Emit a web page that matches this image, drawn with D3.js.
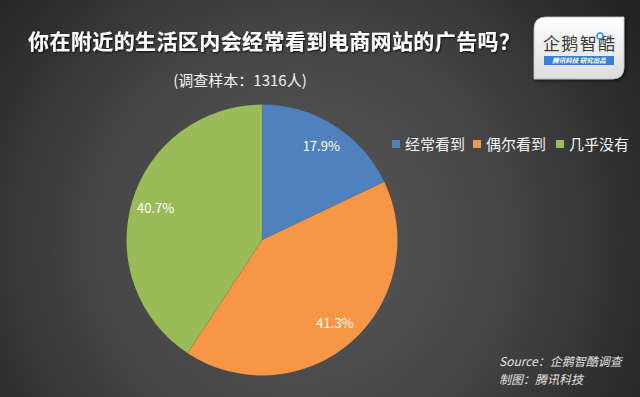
<!DOCTYPE html>
<html><head><meta charset="utf-8">
<script src="https://cdn.jsdelivr.net/npm/d3@7"></script>
<style>html,body{margin:0;padding:0;background:#2b2b2b;overflow:hidden}</style>
</head><body>
<script>
const categories = ["经常看到", "偶尔看到", "几乎没有"];
const values = [17.9, 41.3, 40.7];
const colors = ["#4f81bd", "#f79646", "#9bbb59"];
const titleText = "你在附近的生活区内会经常看到电商网站的广告吗？";
const subtitleText = "(调查样本：1316人)";
const sourceLines = ["Source：企鹅智酷调查", "制图：腾讯科技"];

const W = 640, H = 397;
const font = "'Noto Sans CJK SC','Noto Sans',sans-serif";
const svg = d3.select("body").append("svg").attr("width", W).attr("height", H);
const defs = svg.append("defs");
const bg = defs.append("radialGradient").attr("id", "bg")
  .attr("gradientUnits", "userSpaceOnUse").attr("cx", 300).attr("cy", 240).attr("r", 400);
bg.append("stop").attr("offset", 0).attr("stop-color", "#5a5a5a");
bg.append("stop").attr("offset", 0.55).attr("stop-color", "#434343");
bg.append("stop").attr("offset", 1).attr("stop-color", "#232323");
svg.append("rect").attr("width", W).attr("height", H).attr("fill", "url(#bg)");

const sh = defs.append("filter").attr("id", "ts").attr("x", "-10%").attr("y", "-30%").attr("width", "120%").attr("height", "160%");
sh.append("feDropShadow").attr("dx", 1).attr("dy", 1).attr("stdDeviation", 0.8).attr("flood-color", "#000").attr("flood-opacity", 0.8);

// title
svg.append("text").attr("x", 28).attr("y", 49)
  .attr("font-family", font).attr("font-weight", "bold").attr("font-size", 21)
  .attr("textLength", 492).attr("lengthAdjust", "spacing")
  .attr("fill", "#ffffff").attr("filter", "url(#ts)").text(titleText);
svg.append("text").attr("x", 240).attr("y", 86).attr("text-anchor", "middle")
  .attr("font-family", font).attr("font-size", 15)
  .attr("fill", "#f2f2f2").text(subtitleText);

// pie
const cx = 262, cy = 240, r = 135.5;
const pie = d3.pie().sort(null).value(d => d)(values);
const arc = d3.arc().innerRadius(0).outerRadius(r);
const labelArc = d3.arc().innerRadius(111).outerRadius(111);
const g = svg.append("g").attr("transform", `translate(${cx},${cy})`);
g.selectAll("path").data(pie).enter().append("path")
  .attr("d", arc).attr("fill", (d, i) => colors[i])
  .attr("stroke", "rgba(0,0,0,0.08)").attr("stroke-width", 0.6);
g.selectAll("text").data(pie).enter().append("text")
  .attr("transform", d => `translate(${labelArc.centroid(d)})`)
  .attr("text-anchor", "middle").attr("dy", "0.36em")
  .attr("font-family", font).attr("font-size", 13)
  .attr("fill", "#ffffff").text(d => d.data.toFixed(1) + "%");

// legend
const legX = [392, 473, 556];
const lg = svg.append("g");
categories.forEach((c, i) => {
  lg.append("rect").attr("x", legX[i]).attr("y", 140).attr("width", 8).attr("height", 8).attr("fill", colors[i]);
  lg.append("text").attr("x", legX[i] + 13).attr("y", 149.5)
    .attr("font-family", font).attr("font-size", 15).attr("fill", "#f2f2f2").text(c);
});

// source
sourceLines.forEach((t, i) => {
  svg.append("text").attr("x", 499).attr("y", 366 + i * 18)
    .attr("font-family", font).attr("font-size", 12).attr("font-style", "italic")
    .attr("fill", "#e0e0e0").text(t);
});

// logo
const lgGrad = defs.append("linearGradient").attr("id", "lgg").attr("x1", 0).attr("y1", 0).attr("x2", 0).attr("y2", 1);
lgGrad.append("stop").attr("offset", 0).attr("stop-color", "#ffffff");
lgGrad.append("stop").attr("offset", 1).attr("stop-color", "#dcdcdc");
const lshadow = defs.append("filter").attr("id", "ls").attr("x", "-20%").attr("y", "-20%").attr("width", "140%").attr("height", "140%");
lshadow.append("feDropShadow").attr("dx", 1.5).attr("dy", 1.5).attr("stdDeviation", 1.5).attr("flood-color", "#000").attr("flood-opacity", 0.6);
const lx = 534, ly = 17, lw = 90, lh = 62, rr = 12;
svg.append("path").attr("d",
  `M${lx + rr},${ly} L${lx + lw},${ly} L${lx + lw},${ly + lh - rr} Q${lx + lw},${ly + lh} ${lx + lw - rr},${ly + lh} L${lx},${ly + lh} L${lx},${ly + rr} Q${lx},${ly} ${lx + rr},${ly} Z`)
  .attr("fill", "url(#lgg)").attr("stroke", "#bdbdbd").attr("stroke-width", 0.8).attr("filter", "url(#ls)");
svg.append("text").attr("x", 579).attr("y", 50).attr("text-anchor", "middle")
  .attr("font-family", font).attr("font-size", 17).attr("fill", "#3a3a3a")
  .attr("textLength", 72).attr("lengthAdjust", "spacing").text("企鹅智酷");
svg.append("circle").attr("cx", 600).attr("cy", 36).attr("r", 3).attr("fill", "#fff").attr("stroke", "#3a8fe0").attr("stroke-width", 1.5);
svg.append("rect").attr("x", 544).attr("y", 56).attr("width", 70).attr("height", 9).attr("fill", "#3a7fd5");
svg.append("text").attr("x", 579).attr("y", 63).attr("text-anchor", "middle")
  .attr("font-family", font).attr("font-size", 6.5).attr("font-style", "italic").attr("font-weight", "bold")
  .attr("fill", "#ffffff").text("腾讯科技  研究出品");
</script>
</body></html>
